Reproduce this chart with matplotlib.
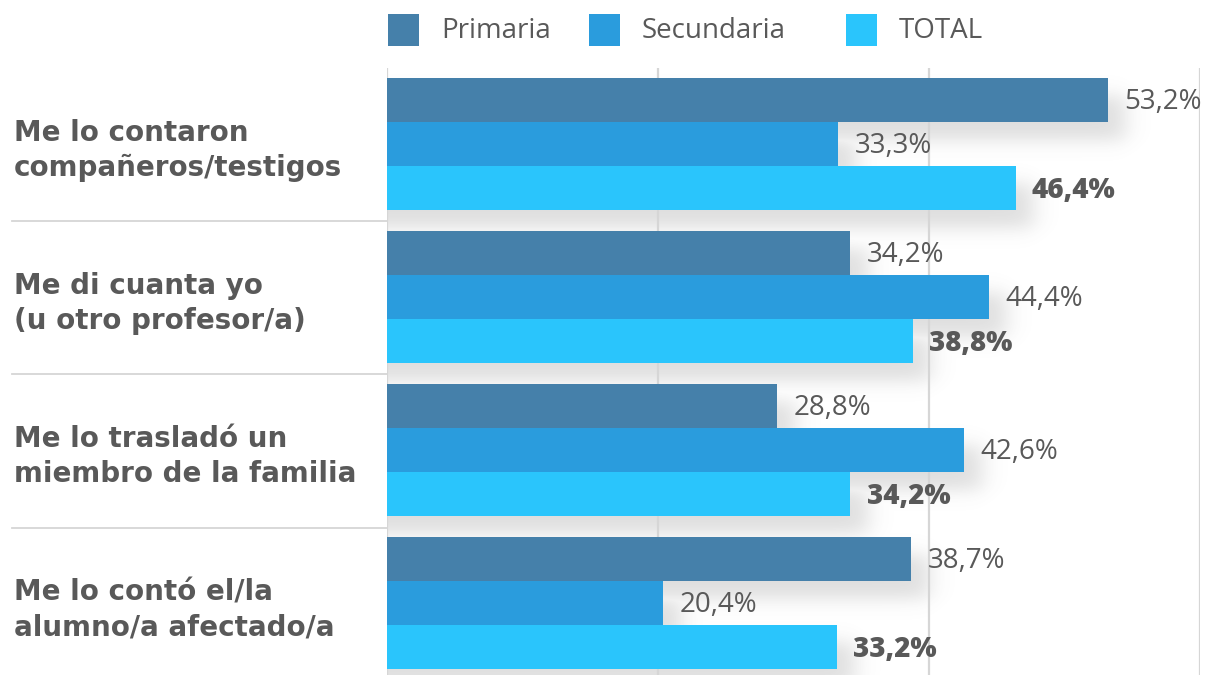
import matplotlib.pyplot as plt
import matplotlib.transforms as mtransforms
from matplotlib.patches import Rectangle
import numpy as np

# data
categories = ["Me lo contaron\ncompañeros/testigos",
              "Me di cuanta yo\n(u otro profesor/a)",
              "Me lo trasladó un\nmiembro de la familia",
              "Me lo contó el/la\nalumno/a afectado/a"]
series = ["Primaria", "Secundaria", "TOTAL"]
primaria = [53.2, 34.2, 28.8, 38.7]
secundaria = [33.3, 44.4, 42.6, 20.4]
total = [46.4, 38.8, 34.2, 33.2]

colors = ["#4580AA", "#2A9CDD", "#2AC5FC"]
text_col = "#595959"
grid_col = "#d6d6d6"

plt.rcParams['font.family'] = ['Open Sans', 'DejaVu Sans']

fig = plt.figure(figsize=(12.1, 6.75), dpi=100)
ax = fig.add_axes([387 / 1210, 0.0, (1200 - 387) / 1210, 1 - 68 / 675])

pitch = 3.48
centers = np.arange(len(categories)) * pitch
values = [primaria, secundaria, total]
ytop, ybot = -1.727, 13.8 - 1.727

# soft drop shadow (max of blurred rectangles, offset down/right)
xs = np.linspace(0, 60, 900)
ys = np.linspace(ytop, ybot, 700)
X, Y = np.meshgrid(xs, ys)
shadow = np.zeros_like(X)
def soft(z, a, b, w):
    return 0.5 * (np.tanh((z - a) / w) - np.tanh((z - b) / w))
for j, vals in enumerate(values):
    for i, v in enumerate(vals):
        yc = centers[i] + (j - 1)
        s = soft(X, -5, v + 1.3, 1.0) * soft(Y, yc - 0.5 + 0.4, yc + 0.5 + 0.4, 0.25)
        shadow = np.maximum(shadow, s)
rgba = np.zeros(X.shape + (4,))
rgba[..., :3] = 0.35
rgba[..., 3] = shadow * 0.2
ax.imshow(rgba, extent=(0, 60, ybot, ytop), aspect="auto", zorder=0.5,
          interpolation="bilinear", origin="upper")

# vertical gridlines
for gx in [0, 20, 40, 60]:
    ax.axvline(gx, color=grid_col, lw=1.6, zorder=1)

for j, vals in enumerate(values):
    yb = centers + (j - 1)
    ax.barh(yb, vals, height=1.0, color=colors[j], zorder=3, label=series[j])
    for y, v in zip(yb, vals):
        lbl = f"{v:.1f}%".replace(".", ",")
        if j == 2:
            ax.text(v + 1.2, y + 0.05, lbl, va="center", ha="left", fontsize=20,
                    color=text_col, fontweight="heavy", zorder=4)
        else:
            ax.text(v + 1.2, y + 0.05, lbl, va="center", ha="left", fontsize=20,
                    color=text_col, zorder=4)

ax.set_xlim(0, 60)
ax.set_ylim(ybot, ytop)
ax.set_xticks([])
ax.set_yticks([])
for s in ax.spines.values():
    s.set_visible(False)

# category labels and separators on the left
trans = mtransforms.blended_transform_factory(fig.transFigure, ax.transData)
for i, cat in enumerate(categories):
    t = fig.text(14 / 1210, 0, cat, transform=trans, fontsize=20, fontweight="bold",
                 color=text_col, va="center", ha="left", linespacing=1.3,
                 family="DejaVu Sans")
    t.set_y(centers[i] + 0.15)
for i in range(len(categories) - 1):
    ymid = (centers[i] + centers[i + 1]) / 2 + 0.02
    ax.plot([12 / 1210, 387 / 1210], [ymid, ymid], transform=trans, color=grid_col,
            lw=1.3, clip_on=False)

# legend drawn manually on top
leg_x = [388, 589, 846]
for j, name in enumerate(series):
    fig.patches.append(Rectangle((leg_x[j] / 1210, 1 - 46 / 675), 31 / 1210, 32 / 675,
                                 transform=fig.transFigure, facecolor=colors[j], lw=0))
    fig.text((leg_x[j] + 53) / 1210, 1 - 31 / 675, name, fontsize=20, color=text_col,
             va="center", ha="left")

fig.savefig("out.png", dpi=100)
